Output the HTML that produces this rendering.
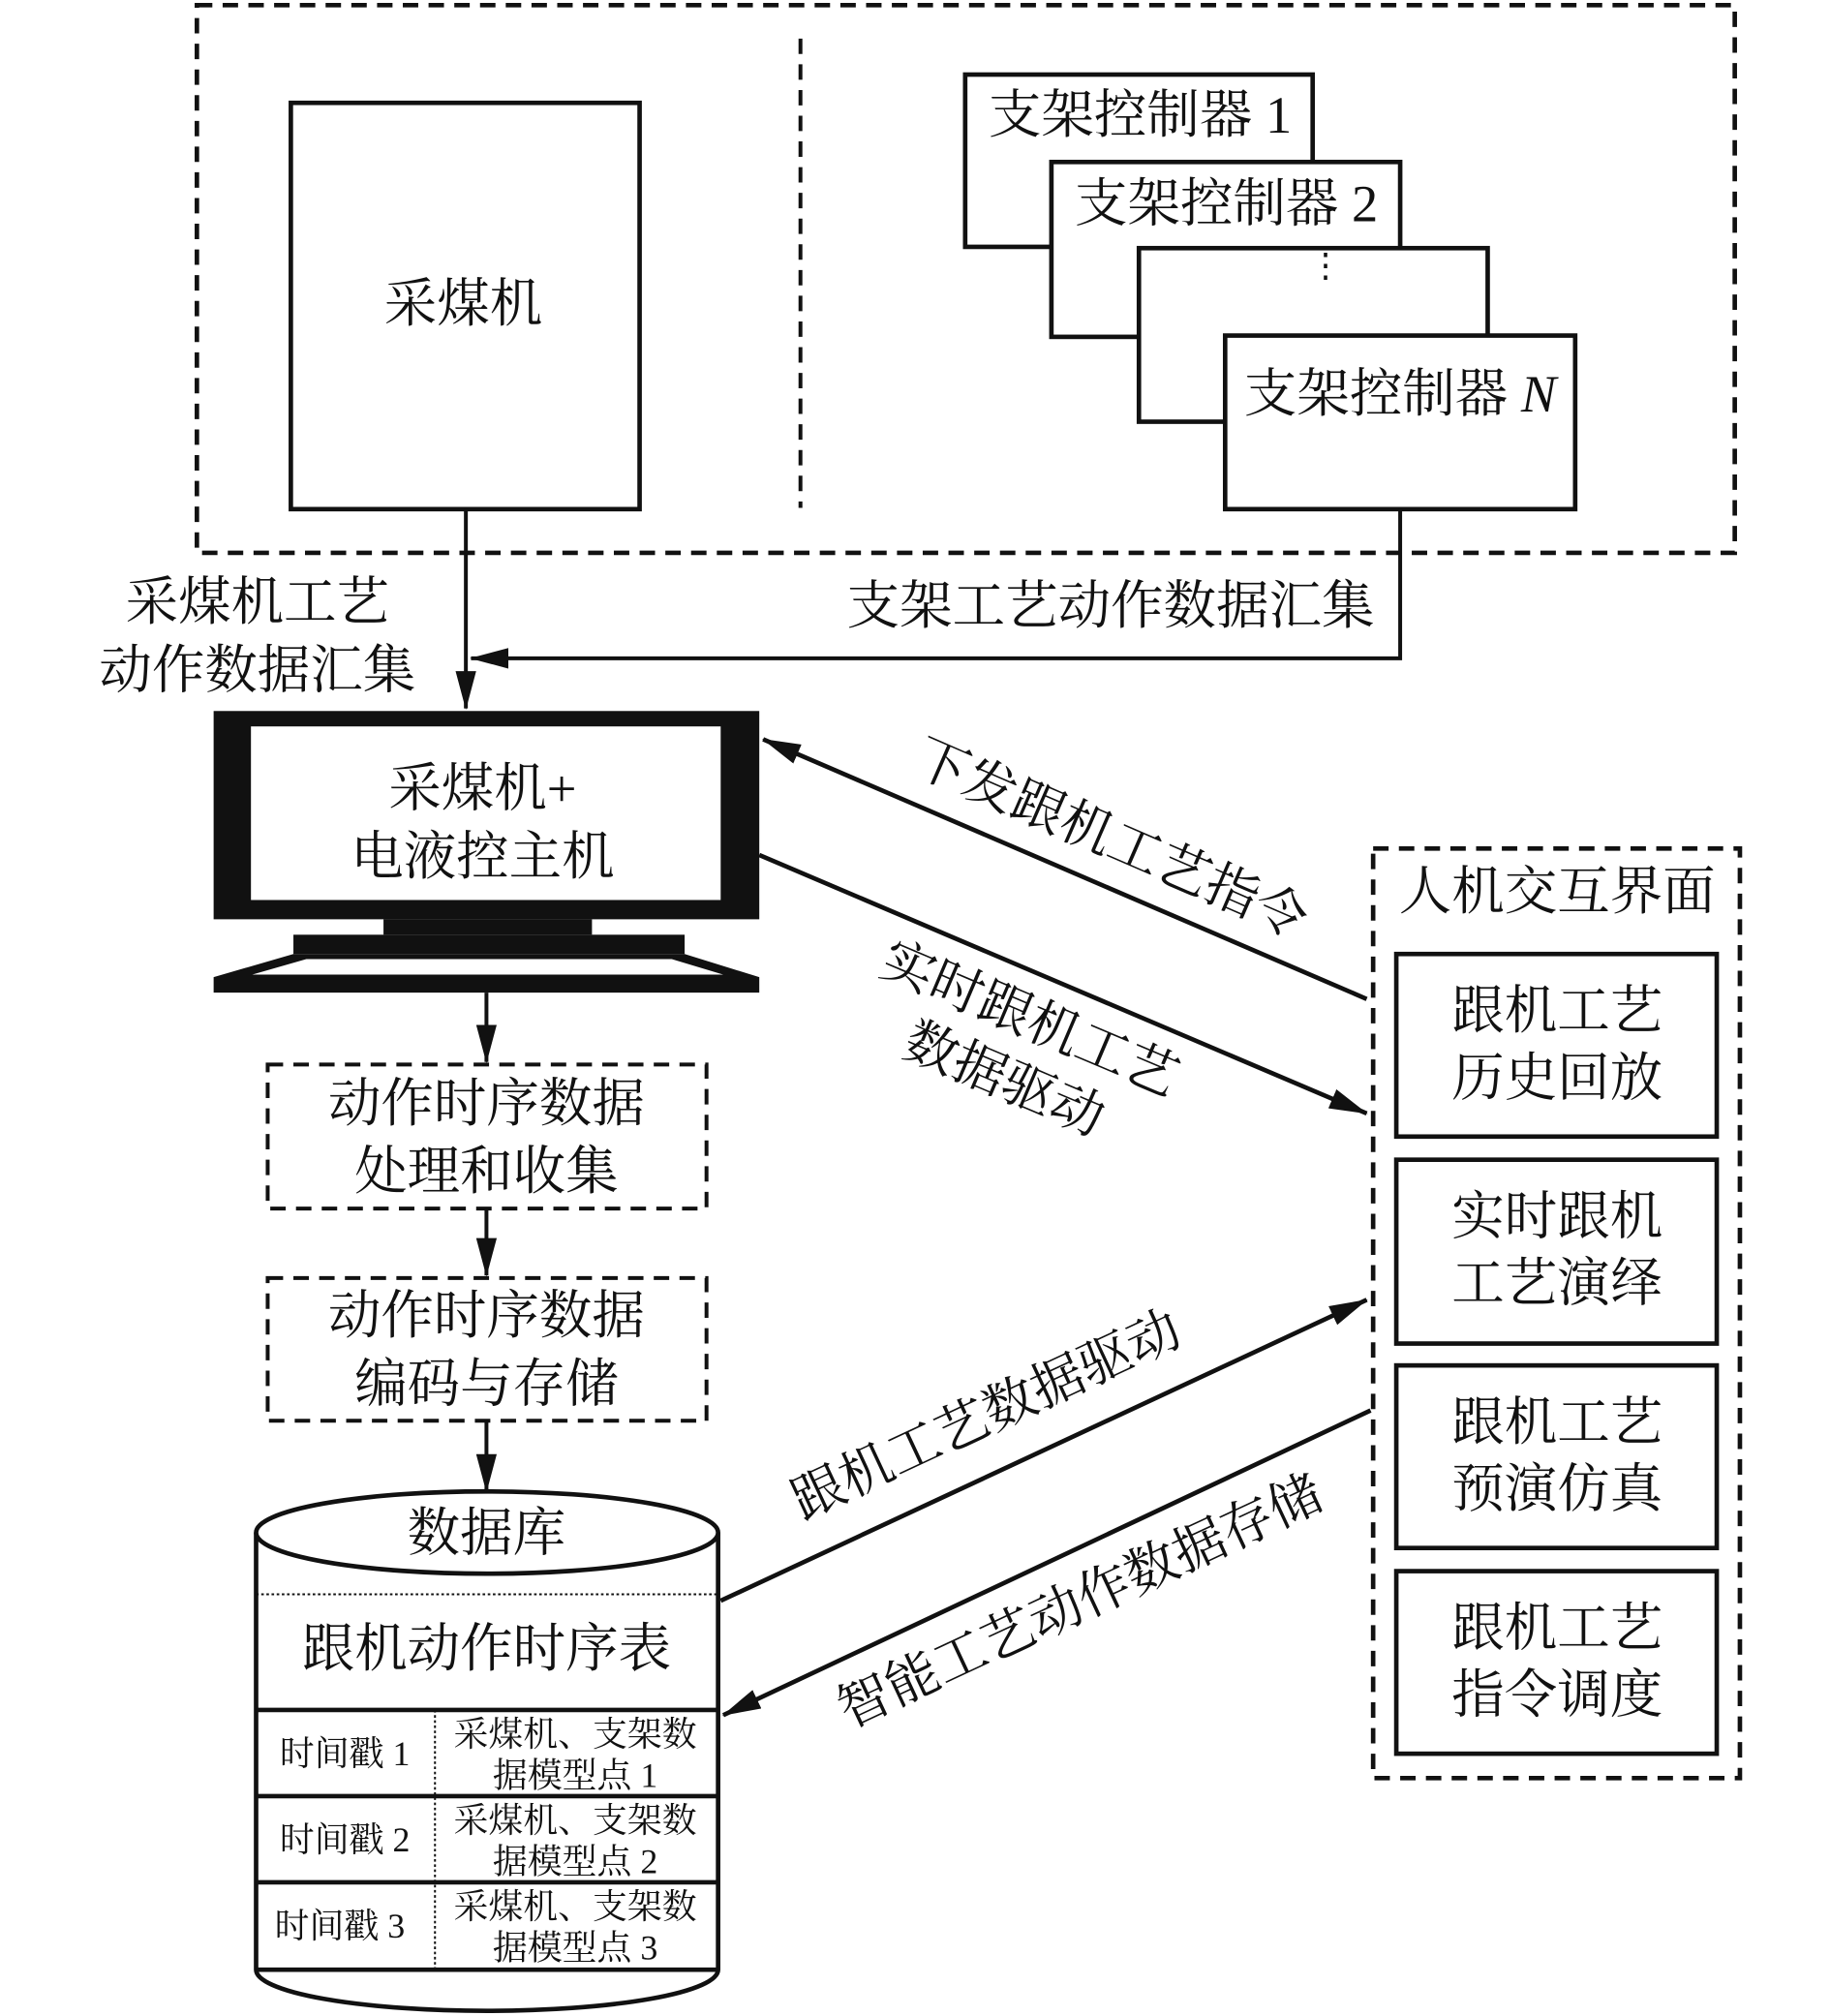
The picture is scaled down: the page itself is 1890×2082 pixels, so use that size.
<!DOCTYPE html>
<html><head><meta charset="utf-8"><style>
html,body{margin:0;padding:0;background:#fff}
svg{display:block}
text{font-family:"Liberation Serif","Noto Serif CJK SC",serif;fill:#111}
</style></head><body>
<svg width="1890" height="2082" viewBox="0 0 1422 1568" preserveAspectRatio="none" xmlns="http://www.w3.org/2000/svg">
<defs>
<marker id="b" markerWidth="30" markerHeight="16" refX="29" refY="8" orient="auto" markerUnits="userSpaceOnUse" viewBox="0 0 30 16">
<path d="M0,0 L30,8 L0,16 z" fill="#111"/></marker>
</defs>
<g fill="none" stroke="#111">
<rect x="153" y="4" width="1195" height="426" stroke-width="3.5" stroke-dasharray="12,8"/>
<line x1="622" y1="30" x2="622" y2="395" stroke-width="3" stroke-dasharray="12,8"/>
<rect x="226" y="80" width="271" height="316" stroke-width="3.5" fill="#fff"/>
<rect x="750" y="58" width="270" height="134" stroke-width="3.5" fill="#fff"/>
<rect x="817" y="126" width="271" height="136" stroke-width="3.5" fill="#fff"/>
<rect x="885" y="193" width="271" height="135" stroke-width="3.5" fill="#fff"/>
<rect x="952" y="261" width="272" height="135" stroke-width="3.5" fill="#fff"/>
<line x1="362" y1="396" x2="362" y2="551" stroke-width="3" marker-end="url(#b)"/>
<polyline points="1088,396 1088,512 366,512" stroke-width="3" marker-end="url(#b)"/>
<line x1="378" y1="772" x2="378" y2="826" stroke-width="3" marker-end="url(#b)"/>
<rect x="208" y="828" width="341" height="112" stroke-width="3" stroke-dasharray="12,8"/>
<line x1="378" y1="940" x2="378" y2="992" stroke-width="3" marker-end="url(#b)"/>
<rect x="208" y="994" width="341" height="111" stroke-width="3" stroke-dasharray="12,8"/>
<line x1="378" y1="1105" x2="378" y2="1160" stroke-width="3" marker-end="url(#b)"/>
<path d="M199,1192 L199,1532 A179.5,32 0 0 0 558,1532 L558,1192" stroke-width="3.5" fill="#fff"/>
<ellipse cx="378.5" cy="1192" rx="179.5" ry="32" stroke-width="3.5" fill="#fff"/>
<line x1="199" y1="1240" x2="558" y2="1240" stroke-width="1.5" stroke-dasharray="2,2"/>
<line x1="199" y1="1330" x2="558" y2="1330" stroke-width="3.5"/>
<line x1="199" y1="1397" x2="558" y2="1397" stroke-width="3.5"/>
<line x1="199" y1="1464" x2="558" y2="1464" stroke-width="3.5"/>
<line x1="199" y1="1532" x2="558" y2="1532" stroke-width="3.5"/>
<line x1="338" y1="1330" x2="338" y2="1532" stroke-width="1.5" stroke-dasharray="2,2"/>
<rect x="1067" y="660" width="285" height="723" stroke-width="3.5" stroke-dasharray="12,8"/>
<rect x="1085" y="742" width="249" height="142" stroke-width="3.5"/>
<rect x="1085" y="902" width="249" height="143" stroke-width="3.5"/>
<rect x="1085" y="1062" width="249" height="142" stroke-width="3.5"/>
<rect x="1085" y="1222" width="249" height="142" stroke-width="3.5"/>
<line x1="1062" y1="777" x2="593" y2="575" stroke-width="3.5" marker-end="url(#b)"/>
<line x1="590" y1="665" x2="1062" y2="866" stroke-width="3.5" marker-end="url(#b)"/>
<line x1="560" y1="1245" x2="1062" y2="1011" stroke-width="3.5" marker-end="url(#b)"/>
<line x1="1065" y1="1097" x2="562" y2="1334" stroke-width="3.5" marker-end="url(#b)"/>
</g>
<rect x="166" y="553" width="424" height="162" fill="#111"/>
<rect x="195" y="565" width="365" height="135" fill="#fff"/>
<rect x="298" y="715" width="162" height="12" fill="#111"/>
<rect x="228" y="727" width="304" height="15" fill="#111"/>
<path d="M228,742 L532,742 L590,760 L590,772 L166,772 L166,760 Z" fill="#111"/>
<path d="M238,746 L522,746 L562,758 L196,758 Z" fill="#fff"/>
<g font-size="41" text-anchor="middle">
<text x="360" y="250">采煤机</text>
<text x="886" y="103">支架控制器 1</text>
<text x="953" y="172">支架控制器 2</text>
<text x="1030" y="215" font-size="26">⋮</text>
<text x="1088" y="320">支架控制器 <tspan font-style="italic">N</tspan></text>
<text x="200" y="482">采煤机工艺</text>
<text x="200" y="535">动作数据汇集</text>
<text x="1068" y="485" text-anchor="end">支架工艺动作数据汇集</text>
<text x="375" y="627">采煤机+</text>
<text x="375" y="680">电液控主机</text>
<text x="378" y="872">动作时序数据</text>
<text x="378" y="925">处理和收集</text>
<text x="378" y="1037">动作时序数据</text>
<text x="378" y="1090">编码与存储</text>
<text x="378" y="1206">数据库</text>
<text x="378" y="1296">跟机动作时序表</text>
<text x="1210" y="707">人机交互界面</text>
<text x="1210" y="800">跟机工艺</text>
<text x="1210" y="852">历史回放</text>
<text x="1210" y="960">实时跟机</text>
<text x="1210" y="1012">工艺演绎</text>
<text x="1210" y="1120">跟机工艺</text>
<text x="1210" y="1172">预演仿真</text>
<text x="1210" y="1280">跟机工艺</text>
<text x="1210" y="1332">指令调度</text>
<text transform="translate(858,665) rotate(23.5)">下发跟机工艺指令</text>
<text transform="translate(795,805) rotate(23)">实时跟机工艺</text>
<text transform="translate(775,852) rotate(23)">数据驱动</text>
<text transform="translate(772,1113) rotate(-25)">跟机工艺数据驱动</text>
<text transform="translate(845,1258) rotate(-25)">智能工艺动作数据存储</text>
</g>
<g font-size="27" text-anchor="middle">
<text x="268" y="1373">时间戳 1</text>
<text x="268" y="1440">时间戳 2</text>
<text x="264" y="1507">时间戳 3</text>
<text x="447" y="1358">采煤机、支架数</text>
<text x="447" y="1390">据模型点 1</text>
<text x="447" y="1425">采煤机、支架数</text>
<text x="447" y="1457">据模型点 2</text>
<text x="447" y="1492">采煤机、支架数</text>
<text x="447" y="1524">据模型点 3</text>
</g>
</svg>
</body></html>
